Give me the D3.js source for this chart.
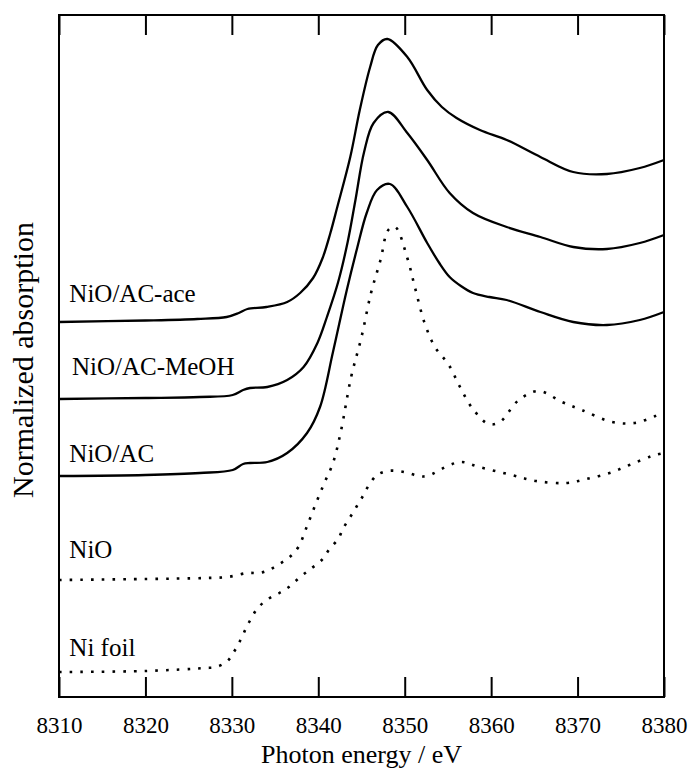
<!DOCTYPE html>
<html>
<head>
<meta charset="utf-8">
<script src="https://cdn.jsdelivr.net/npm/d3@7"></script>
<style>
  body { margin: 0; background: #fff; }
  svg text { fill: #000; }
</style>
</head>
<body>
<div id="visContainer"></div>
<script>
// Ni K-edge XANES (offset, arbitrary units)
const aceE = [8310, 8320, 8326, 8329.4, 8330.8, 8331.8, 8334, 8336.4, 8337.9, 8339.4, 8340.5, 8341.4, 8342.2, 8343.7, 8344.8, 8346, 8346.9, 8348, 8350.3, 8352.6, 8354.3, 8356, 8358.7, 8361.8, 8365.7, 8369.5, 8373.4, 8377.2, 8380];
const aceV = [3.75, 3.765, 3.78, 3.80, 3.84, 3.88, 3.90, 3.95, 4.04, 4.19, 4.39, 4.64, 4.90, 5.40, 5.87, 6.30, 6.52, 6.58, 6.40, 6.07, 5.90, 5.79, 5.67, 5.57, 5.40, 5.25, 5.23, 5.29, 5.37];

const meohE = [8310, 8320, 8326.3, 8330.1, 8331.3, 8332.1, 8334.1, 8336.4, 8338.3, 8339.9, 8341, 8342.3, 8343.4, 8344.3, 8345.3, 8346.4, 8348.1, 8350.3, 8352.6, 8355.2, 8357.9, 8361.8, 8365.7, 8369.5, 8373.4, 8377.2, 8380];
const meohV = [2.98, 2.99, 3.00, 3.02, 3.07, 3.09, 3.10, 3.17, 3.30, 3.54, 3.80, 4.15, 4.55, 4.97, 5.45, 5.74, 5.85, 5.64, 5.37, 5.04, 4.84, 4.70, 4.60, 4.50, 4.48, 4.54, 4.62];

const acE = [8310, 8320, 8326.3, 8330.1, 8331.3, 8332.1, 8334.1, 8336.4, 8338.7, 8340.2, 8341.7, 8343.3, 8344.5, 8345.6, 8346.8, 8348.3, 8350.3, 8352.6, 8354, 8355.2, 8356.5, 8357.9, 8359.8, 8361.8, 8365.7, 8369.5, 8373.4, 8377.2, 8380];
const acV = [2.21, 2.22, 2.24, 2.27, 2.33, 2.34, 2.35, 2.44, 2.64, 2.90, 3.45, 4.07, 4.49, 4.84, 5.07, 5.13, 4.90, 4.54, 4.34, 4.20, 4.11, 4.04, 4.00, 3.97, 3.85, 3.75, 3.72, 3.77, 3.85];

const nioE = [8310, 8320, 8326.9, 8329.5, 8331.8, 8333.2, 8334.3, 8335.5, 8336.7, 8337.7, 8338.7, 8339.7, 8340.7, 8341.7, 8342.6, 8343.8, 8345, 8346.1, 8347.2, 8348.1, 8348.9, 8350.3, 8351.2, 8352.3, 8353.5, 8355.1, 8356.4, 8357.8, 8359.7, 8361, 8363.2, 8365.5, 8368.2, 8370.5, 8374, 8376.6, 8379, 8380];
const nioV = [1.17, 1.18, 1.19, 1.20, 1.24, 1.24, 1.27, 1.33, 1.40, 1.50, 1.71, 1.93, 2.14, 2.34, 2.65, 3.20, 3.60, 4.04, 4.37, 4.67, 4.70, 4.39, 4.09, 3.74, 3.50, 3.32, 3.10, 2.89, 2.73, 2.75, 2.97, 3.06, 2.95, 2.87, 2.75, 2.74, 2.81, 2.85];

const niE = [8310, 8320, 8326.9, 8328.2, 8329.5, 8330.3, 8331, 8331.6, 8332.2, 8333, 8334.2, 8335.5, 8336.6, 8337.9, 8339.1, 8340.4, 8341.3, 8342.3, 8342.9, 8343.7, 8344.4, 8345.1, 8345.8, 8346.8, 8348, 8349.2, 8350.4, 8351.6, 8352.6, 8355.2, 8356.6, 8358.6, 8362.4, 8365.2, 8368.7, 8371, 8373.7, 8376, 8378.6, 8380];
const niV = [0.25, 0.26, 0.29, 0.30, 0.36, 0.46, 0.57, 0.68, 0.78, 0.89, 0.98, 1.04, 1.10, 1.20, 1.28, 1.37, 1.48, 1.58, 1.69, 1.80, 1.90, 2.00, 2.11, 2.22, 2.26, 2.26, 2.24, 2.21, 2.21, 2.32, 2.35, 2.30, 2.22, 2.16, 2.14, 2.18, 2.24, 2.32, 2.41, 2.44];

const labels = ["NiO/AC-ace", "NiO/AC-MeOH", "NiO/AC", "NiO", "Ni foil"];
const labelE = [8311.2, 8311.5, 8311.2, 8311.2, 8311.2];
const labelV = [3.95, 3.22, 2.35, 1.39, 0.41];

const xTicks = [8310, 8320, 8330, 8340, 8350, 8360, 8370, 8380];

const series = [
  { E: aceE, V: aceV, dotted: false },
  { E: meohE, V: meohV, dotted: false },
  { E: acE, V: acV, dotted: false },
  { E: nioE, V: nioV, dotted: true },
  { E: niE, V: niV, dotted: true }
];

const width = 693;
const height = 769;
const margin = { top: 15, right: 29, bottom: 72, left: 59 };
const font = '"Liberation Serif", "Times New Roman", Times, serif';

const svg = d3.select("#visContainer")
  .append("svg")
  .attr("width", width)
  .attr("height", height)
  .attr("font-family", font);

const xScale = d3.scaleLinear()
  .domain([8310, 8380])
  .range([margin.left, width - margin.right]);

const yScale = d3.scaleLinear()
  .domain([0, 6.82])
  .range([height - margin.bottom, margin.top]);

const line = d3.line()
  .x((d) => xScale(d[0]))
  .y((d) => yScale(d[1]))
  .curve(d3.curveCatmullRom.alpha(0.5));

svg.append("g")
  .selectAll("path")
  .data(series)
  .join("path")
  .attr("d", (s) => line(s.E.map((e, i) => [e, s.V[i]])))
  .attr("fill", "none")
  .attr("stroke", "#000")
  .attr("stroke-width", (s) => s.dotted ? 2.6 : 2.3)
  .attr("stroke-dasharray", (s) => s.dotted ? "2.6 8.1" : null);

// axes, ticks pointing inward
const bottomAxis = svg.append("g")
  .attr("transform", `translate(0, ${height - margin.bottom})`)
  .call(d3.axisBottom(xScale).tickValues(xTicks).tickFormat(d3.format("d")).tickSizeInner(-20).tickSizeOuter(0).tickPadding(20));

const topAxis = svg.append("g")
  .attr("transform", `translate(0, ${margin.top})`)
  .call(d3.axisTop(xScale).tickValues(xTicks).tickFormat("").tickSizeInner(-20).tickSizeOuter(0));

[bottomAxis, topAxis].forEach((g) => {
  g.attr("font-family", font);
  g.select(".domain").remove();
  g.selectAll(".tick line").attr("stroke", "#000").attr("stroke-width", 2);
  g.selectAll("text")
    .attr("font-family", font)
    .attr("font-size", 23);
});

svg.append("rect")
  .attr("x", margin.left)
  .attr("y", margin.top)
  .attr("width", width - margin.left - margin.right)
  .attr("height", height - margin.top - margin.bottom)
  .attr("fill", "none")
  .attr("stroke", "#000")
  .attr("stroke-width", 2);

svg.append("g")
  .selectAll("text")
  .data(labels)
  .join("text")
  .attr("x", (d, i) => xScale(labelE[i]))
  .attr("y", (d, i) => yScale(labelV[i]))
  .attr("font-size", 25)
  .text((d) => d);

svg.append("text")
  .attr("x", (margin.left + width - margin.right) / 2)
  .attr("y", 763)
  .attr("text-anchor", "middle")
  .attr("font-size", 26)
  .text("Photon energy / eV");

svg.append("text")
  .attr("transform", `translate(33, ${(margin.top + height - margin.bottom) / 2 + 4}) rotate(-90)`)
  .attr("text-anchor", "middle")
  .attr("font-size", 30)
  .text("Normalized absorption");
</script>
</body>
</html>
